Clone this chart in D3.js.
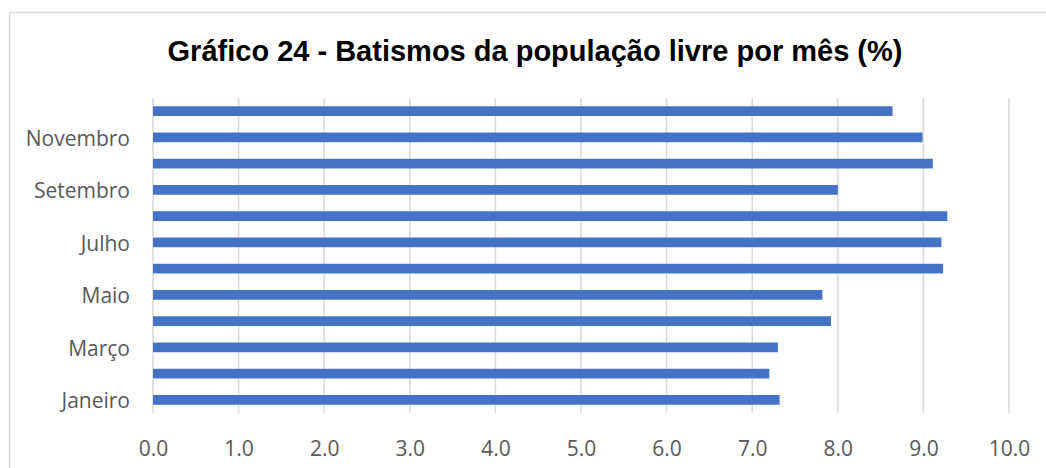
<!DOCTYPE html>
<html><head><meta charset="utf-8">
<script src="https://cdn.jsdelivr.net/npm/d3@7"></script>
<style>body{margin:0;background:#fff;}svg{display:block;}</style>
</head><body><svg id="c" width="1046" height="468"></svg>
<script>
const months = ["Janeiro","Fevereiro","Março","Abril","Maio","Junho","Julho","Agosto","Setembro","Outubro","Novembro","Dezembro"];
const values = [7.32,7.20,7.30,7.92,7.82,9.23,9.21,9.28,8.00,9.11,8.99,8.64];
const xTicks = [0,1,2,3,4,5,6,7,8,9,10];
const shownLabels = ["Janeiro","Março","Maio","Julho","Setembro","Novembro"];
const title = "Gráfico 24 - Batismos da população livre por mês (%)";

const svg = d3.select("#c");
const m = {left:153, right:1009, top:98, bottom:413};

svg.append("rect").attr("x",9.5).attr("y",12.5).attr("width",1100).attr("height",600)
  .attr("fill","#fff").attr("stroke","#d9d9d9").attr("stroke-width",1.5);

svg.append("text").attr("x",535).attr("y",61).attr("text-anchor","middle")
  .attr("font-family","Liberation Sans, Arial, sans-serif").attr("font-weight","bold")
  .attr("font-size",29).attr("fill","#000").text(title);

const x = d3.scaleLinear().domain([0,10]).range([m.left,m.right]);
const y = d3.scaleBand().domain(months.slice().reverse()).range([m.top,m.bottom]).paddingInner(0.63).paddingOuter(0.315);

svg.append("g").selectAll("line").data(xTicks).join("line")
  .attr("x1",d=>x(d)).attr("x2",d=>x(d)).attr("y1",m.top).attr("y2",m.bottom)
  .attr("stroke","#d9d9d9").attr("stroke-width",1.5);

svg.append("g").selectAll("rect").data(months).join("rect")
  .attr("x",x(0)).attr("y",d=>y(d)).attr("height",y.bandwidth())
  .attr("width",(d,i)=>x(values[i])-x(0)).attr("fill","#4472C4");

const xa = svg.append("g").attr("transform",`translate(0,${m.bottom})`)
  .call(d3.axisBottom(x).tickValues(xTicks).tickFormat(d3.format(".1f")).tickSize(0).tickPadding(28));
xa.select(".domain").remove();
xa.selectAll("text").attr("font-family","Open Sans, sans-serif").attr("font-size",21).attr("fill","#595959");

const ya = svg.append("g").attr("transform",`translate(${m.left},0)`)
  .call(d3.axisLeft(y).tickValues(shownLabels).tickSize(0).tickPadding(23));
ya.select(".domain").remove();
ya.selectAll("text").attr("font-family","Open Sans, sans-serif").attr("font-size",21).attr("fill","#595959").attr("dy","0.4em");
</script></body></html>
